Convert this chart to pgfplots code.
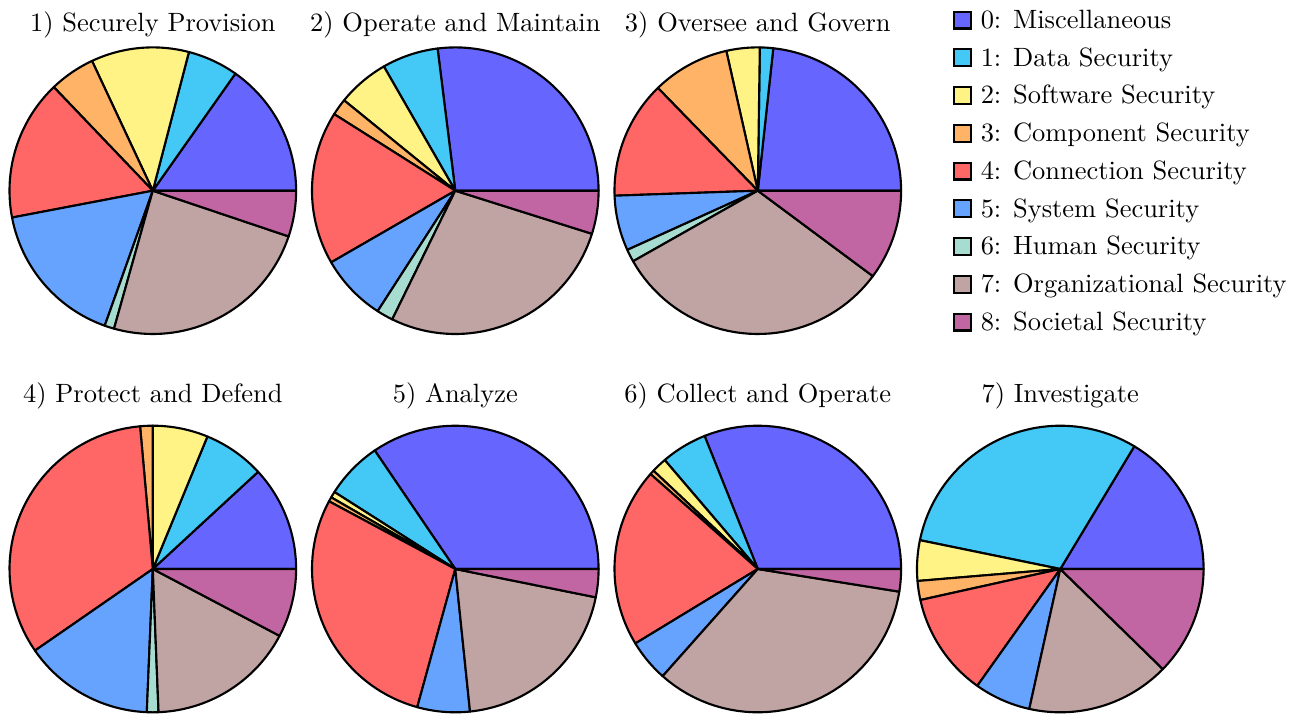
\documentclass[border=0pt]{standalone}
\usepackage{pgfplots}
\usepackage{pgfplotstable}
\pgfplotsset{compat=1.18}

% slice sizes (degrees) per category (rows) and pie (columns)
\pgfplotstableread{
cat p1 p2 p3 p4 p5 p6 p7
0 54.8 97.1 83.8 42.7 124.2 111.8 58.9
1 20.6 22.8 5.4 24.9 23.3 18.7 109.5
2 39.7 21.0 13.5 22.4 2.5 6.2 16.4
3 18.6 6.8 31.5 5.1 1.8 1.8 7.7
4 57.1 62.3 47.8 119.6 102.8 72.8 42.1
5 59.6 27.2 22.4 52.9 21.3 17.1 22.9
6 3.9 6.7 5.1 4.7 0 0 0
7 87.1 98.6 113.9 59.9 72.7 122.5 58.2
8 18.6 17.5 36.6 27.8 11.4 9.1 44.3
}\slices

\definecolor{c0}{HTML}{6666FF}
\definecolor{c1}{HTML}{44C8F5}
\definecolor{c2}{HTML}{FFF386}
\definecolor{c3}{HTML}{FFB366}
\definecolor{c4}{HTML}{FF6666}
\definecolor{c5}{HTML}{66A3FF}
\definecolor{c6}{HTML}{A6DDD0}
\definecolor{c7}{HTML}{C0A3A3}
\definecolor{c8}{HTML}{C266A3}

\pgfplotsset{
  pie/.style={hide axis, scale only axis, width=108.34pt, height=108.34pt,
    xmin=-1, xmax=1, ymin=-1, ymax=1, anchor=center, clip=false},
  toprow/.style={title style={at={(0.5,1)}, anchor=base, yshift=-0.05pt}},
  botrow/.style={title style={at={(0.5,1)}, anchor=base, yshift=2.85pt}},
  wedge/.style={draw=black, line width=0.8pt, line join=round, samples=41, mark=none}
}

\newcommand{\drawpie}[1]{%
  \gdef\pcum{0}%
  \foreach \k in {0,...,8} {%
    \pgfplotstablegetelem{\k}{#1}\of\slices
    \let\val\pgfplotsretval
    \pgfmathsetmacro\wa{\pcum}%
    \pgfmathsetmacro\wb{\pcum+\val}%
    \xdef\pcum{\wb}%
    \ifdim\val pt>0pt
      \edef\temp{\noexpand\addplot[wedge, fill=c\k, domain=\wa:\wb] ({cos(x)},{sin(x)}) -- (0,0) -- cycle;}%
      \temp
    \fi
  }%
}

\begin{document}
\begin{tikzpicture}
\useasboundingbox (0pt,0pt) rectangle (493.29pt,269.514pt);

\begin{axis}[pie, toprow, at={(57.76pt,197.43pt)}, title={1) Securely Provision}]
\drawpie{p1}
\end{axis}
\begin{axis}[pie, toprow, at={(172.10pt,197.43pt)}, title={2) Operate and Maintain}]
\drawpie{p2}
\end{axis}
\begin{axis}[pie, toprow, at={(286.45pt,197.43pt)}, title={3) Oversee and Govern}]
\drawpie{p3}
\end{axis}
\begin{axis}[pie, botrow, at={(57.76pt,54.43pt)}, title={4) Protect and Defend}]
\drawpie{p4}
\end{axis}
\begin{axis}[pie, botrow, at={(172.10pt,54.43pt)}, title={5) Analyze}]
\drawpie{p5}
\end{axis}
\begin{axis}[pie, botrow, at={(286.45pt,54.43pt)}, title={6) Collect and Operate}]
\drawpie{p6}
\end{axis}
\begin{axis}[pie, botrow, at={(400.79pt,54.43pt)}, title={7) Investigate}]
\drawpie{p7}
\end{axis}

% legend
\begin{axis}[hide axis, scale only axis, width=1pt, height=1pt,
  xmin=0, xmax=1, ymin=0, ymax=1,
  at={(360.35pt,269.09pt)}, anchor=north west,
  legend cell align=left,
  legend image code/.code={\draw[#1] (0.4pt,-3.19pt) rectangle (6.78pt,3.19pt);},
  legend style={at={(0,1)}, anchor=north west, draw=none, fill=none,
    inner sep=0pt, outer sep=0pt, row sep=0pt, column sep=3.2pt,
    nodes={inner sep=0pt, text height=10.275pt, text depth=3.995pt}}]
\addlegendimage{fill=c0, draw=black, line width=0.8pt}
\addlegendentry{0: Miscellaneous}
\addlegendimage{fill=c1, draw=black, line width=0.8pt}
\addlegendentry{1: Data Security}
\addlegendimage{fill=c2, draw=black, line width=0.8pt}
\addlegendentry{2: Software Security}
\addlegendimage{fill=c3, draw=black, line width=0.8pt}
\addlegendentry{3: Component Security}
\addlegendimage{fill=c4, draw=black, line width=0.8pt}
\addlegendentry{4: Connection Security}
\addlegendimage{fill=c5, draw=black, line width=0.8pt}
\addlegendentry{5: System Security}
\addlegendimage{fill=c6, draw=black, line width=0.8pt}
\addlegendentry{6: Human Security}
\addlegendimage{fill=c7, draw=black, line width=0.8pt}
\addlegendentry{7: Organizational Security}
\addlegendimage{fill=c8, draw=black, line width=0.8pt}
\addlegendentry{8: Societal Security}
\end{axis}
\end{tikzpicture}
\end{document}
